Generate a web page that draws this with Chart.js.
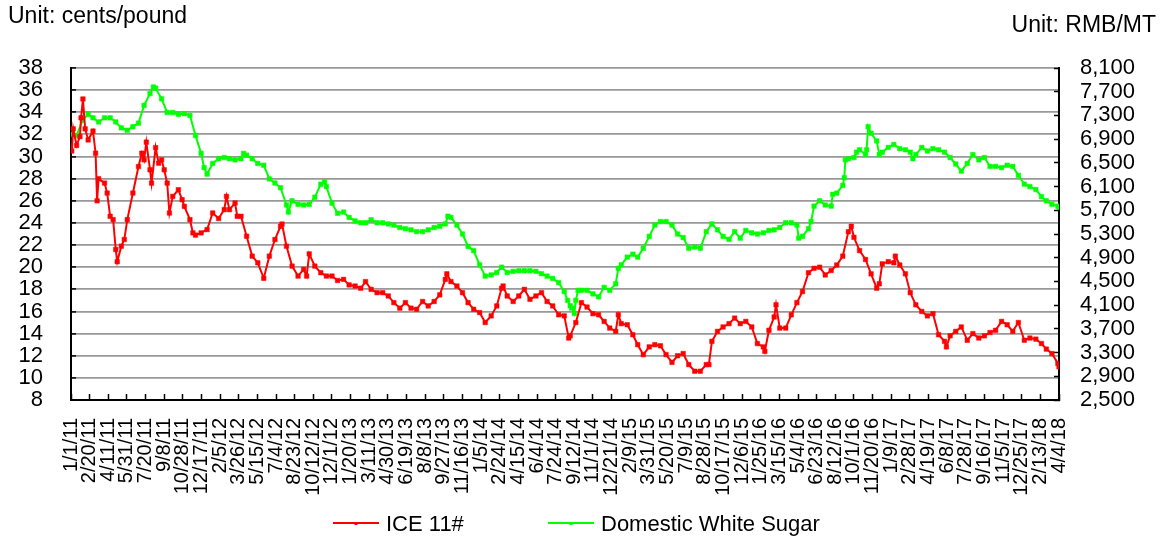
<!DOCTYPE html>
<html><head><meta charset="utf-8">
<script src="https://cdn.jsdelivr.net/npm/chart.js@4.4.0/dist/chart.umd.min.js"></script>
<style>html,body{margin:0;padding:0;background:#fff;}canvas{display:block;}</style>
</head><body>
<canvas id="c" width="1162" height="538"></canvas>
<script>
const iceDates = ["2011-01-03","2011-01-07","2011-01-16","2011-01-25","2011-01-28","2011-02-02","2011-02-08","2011-02-16","2011-03-01","2011-03-08","2011-03-12","2011-03-16","2011-04-01","2011-04-08","2011-04-16","2011-04-24","2011-05-01","2011-05-05","2011-05-16","2011-05-24","2011-06-01","2011-06-16","2011-07-01","2011-07-10","2011-07-16","2011-07-22","2011-08-01","2011-08-05","2011-08-16","2011-08-24","2011-09-01","2011-09-08","2011-09-16","2011-09-22","2011-10-01","2011-10-16","2011-10-26","2011-11-01","2011-11-16","2011-11-24","2011-12-01","2011-12-16",
"2012-01-01","2012-01-16","2012-02-01","2012-02-16","2012-02-22","2012-03-01","2012-03-16","2012-03-22","2012-04-01","2012-04-16","2012-05-01","2012-05-16","2012-06-01","2012-06-16","2012-07-01","2012-07-16","2012-07-20","2012-08-01","2012-08-16","2012-09-01","2012-09-16","2012-09-24","2012-10-01","2012-10-16","2012-11-01","2012-11-16","2012-12-01","2012-12-16",
"2013-01-01","2013-01-16","2013-02-01","2013-02-16","2013-03-01","2013-03-16","2013-04-01","2013-04-16","2013-05-01","2013-05-16","2013-06-01","2013-06-16","2013-07-01","2013-07-16","2013-08-01","2013-08-16","2013-09-01","2013-09-16","2013-10-01","2013-10-05","2013-10-16","2013-11-01","2013-11-16","2013-12-01","2013-12-16",
"2014-01-01","2014-01-16","2014-02-01","2014-02-16","2014-03-01","2014-03-05","2014-03-16","2014-04-01","2014-04-16","2014-05-01","2014-05-16","2014-06-01","2014-06-16","2014-07-01","2014-07-16","2014-08-01","2014-08-16","2014-08-28","2014-09-01","2014-09-16","2014-10-01","2014-10-16","2014-11-01","2014-11-16","2014-12-01","2014-12-16",
"2015-01-01","2015-01-08","2015-01-16","2015-02-01","2015-02-16","2015-03-01","2015-03-16","2015-04-01","2015-04-16","2015-05-01","2015-05-16","2015-06-01","2015-06-16","2015-07-01","2015-07-16","2015-08-01","2015-08-16","2015-09-01","2015-09-08","2015-09-16","2015-10-01","2015-10-16","2015-11-01","2015-11-16","2015-12-01","2015-12-16",
"2016-01-01","2016-01-16","2016-02-01","2016-02-05","2016-02-16","2016-03-01","2016-03-06","2016-03-16","2016-04-01","2016-04-16","2016-05-01","2016-05-16","2016-06-01","2016-06-16","2016-07-01","2016-07-16","2016-08-01","2016-08-16","2016-09-01","2016-09-16","2016-09-24","2016-10-01","2016-10-16","2016-11-01","2016-11-16","2016-12-01","2016-12-08","2016-12-16",
"2017-01-01","2017-01-16","2017-01-20","2017-02-01","2017-02-16","2017-03-01","2017-03-16","2017-04-01","2017-04-16","2017-05-01","2017-05-16","2017-06-01","2017-06-06","2017-06-16","2017-07-01","2017-07-16","2017-08-01","2017-08-16","2017-09-01","2017-09-16","2017-10-01","2017-10-16","2017-11-01","2017-11-16","2017-12-01","2017-12-16",
"2018-01-01","2018-01-16","2018-02-01","2018-02-16","2018-03-01","2018-03-16","2018-04-01","2018-04-04"];
const iceValues = [30.5,32.5,31.0,31.8,33.5,35.2,32.5,31.5,32.3,30.3,26.0,28.0,27.6,26.7,24.6,24.3,21.6,20.5,21.9,22.5,24.3,26.7,29.1,30.3,29.7,31.3,28.8,27.6,30.8,29.4,29.7,28.8,27.6,24.9,26.4,27.0,26.1,25.5,24.3,23.1,22.9,23.1,
23.4,24.9,24.4,25.2,26.4,25.2,25.8,24.6,24.6,22.8,21.0,20.4,19.0,21.0,22.5,23.7,23.9,21.9,20.1,19.2,19.8,19.2,21.2,20.1,19.5,19.2,19.2,18.8,
18.9,18.4,18.3,18.1,18.7,18.0,17.7,17.7,17.4,16.8,16.3,16.8,16.3,16.2,16.9,16.5,16.9,17.5,18.9,19.4,18.7,18.3,17.7,16.8,16.2,
15.9,15.0,15.6,16.5,18.1,18.3,17.4,16.9,17.4,18.0,17.1,17.4,17.7,16.9,16.5,15.7,15.6,13.6,13.8,15.0,16.8,16.4,15.8,15.7,15.1,14.5,
14.2,15.7,14.9,14.8,13.9,13.0,12.1,12.8,13.0,12.9,12.1,11.4,12.0,12.2,11.2,10.6,10.6,11.2,11.2,13.3,14.2,14.6,14.9,15.4,14.9,15.1,
14.6,13.1,12.8,12.4,14.3,15.5,16.6,14.5,14.5,15.7,16.8,17.8,19.5,19.9,20.0,19.3,19.7,20.2,21.0,23.2,23.7,22.7,21.5,20.7,19.4,18.1,18.5,20.3,
20.5,20.4,21.0,20.2,19.4,17.7,16.6,16.0,15.6,15.8,13.9,13.3,12.8,13.8,14.2,14.6,13.4,14.0,13.6,13.8,14.1,14.3,15.1,14.8,14.2,15.0,
13.4,13.6,13.5,13.1,12.6,12.2,11.3,11.0];

const sugarDates = ["2011-01-03","2011-01-16","2011-02-01","2011-02-16","2011-03-01","2011-03-16","2011-04-01","2011-04-16","2011-05-01","2011-05-16","2011-06-01","2011-06-16","2011-07-01","2011-07-16","2011-08-01","2011-08-10","2011-08-16","2011-09-01","2011-09-16","2011-10-01","2011-10-16","2011-11-01","2011-11-16","2011-12-01","2011-12-16","2011-12-24",
"2012-01-01","2012-01-16","2012-02-01","2012-02-16","2012-03-01","2012-03-16","2012-04-01","2012-04-08","2012-04-16","2012-05-01","2012-05-16","2012-06-01","2012-06-16","2012-07-01","2012-07-16","2012-08-01","2012-08-06","2012-08-16","2012-09-01","2012-09-16","2012-10-01","2012-10-16","2012-11-01","2012-11-11","2012-11-16","2012-12-01","2012-12-16",
"2013-01-01","2013-01-16","2013-02-01","2013-02-16","2013-03-01","2013-03-16","2013-04-01","2013-04-16","2013-05-01","2013-05-16","2013-06-01","2013-06-16","2013-07-01","2013-07-16","2013-08-01","2013-08-16","2013-09-01","2013-09-16","2013-10-01","2013-10-08","2013-10-16","2013-11-01","2013-11-16","2013-12-01","2013-12-16",
"2014-01-01","2014-01-16","2014-02-01","2014-02-16","2014-03-01","2014-03-16","2014-04-01","2014-04-16","2014-05-01","2014-05-16","2014-06-01","2014-06-16","2014-07-01","2014-07-16","2014-08-01","2014-08-16","2014-08-25","2014-09-01","2014-09-05","2014-09-12","2014-09-16","2014-09-22","2014-10-01","2014-10-16","2014-11-01","2014-11-16","2014-12-01","2014-12-16",
"2015-01-01","2015-01-08","2015-01-16","2015-02-01","2015-02-16","2015-03-01","2015-03-16","2015-04-01","2015-04-16","2015-05-01","2015-05-16","2015-06-01","2015-06-16","2015-07-01","2015-07-16","2015-08-01","2015-08-16","2015-09-01","2015-09-16","2015-10-01","2015-10-16","2015-11-01","2015-11-16","2015-12-01","2015-12-16",
"2016-01-01","2016-01-16","2016-02-01","2016-02-16","2016-03-01","2016-03-16","2016-04-01","2016-04-16","2016-05-01","2016-05-06","2016-05-16","2016-06-01","2016-06-08","2016-06-16","2016-07-01","2016-07-16","2016-08-01","2016-08-05","2016-08-16","2016-09-01","2016-09-05","2016-09-08","2016-09-16","2016-10-01","2016-10-08","2016-10-16","2016-11-01","2016-11-04","2016-11-08","2016-11-16","2016-12-01","2016-12-08","2016-12-16",
"2017-01-01","2017-01-16","2017-02-01","2017-02-16","2017-03-01","2017-03-08","2017-03-16","2017-04-01","2017-04-16","2017-05-01","2017-05-16","2017-06-01","2017-06-16","2017-07-01","2017-07-16","2017-08-01","2017-08-16","2017-09-01","2017-09-16","2017-10-01","2017-10-16","2017-11-01","2017-11-16","2017-12-01","2017-12-16",
"2018-01-01","2018-01-16","2018-02-01","2018-02-16","2018-03-01","2018-03-16","2018-04-01","2018-04-04"];
const sugarValues = [6980,6960,7220,7320,7260,7190,7260,7260,7190,7090,7050,7110,7170,7470,7670,7780,7760,7580,7350,7350,7320,7330,7300,6960,6660,6420,
6310,6490,6570,6590,6570,6550,6570,6660,6630,6570,6490,6460,6230,6160,6080,5790,5670,5860,5800,5790,5800,5920,6140,6180,6100,5820,5650,
5670,5580,5520,5490,5490,5540,5490,5490,5470,5450,5410,5390,5370,5340,5340,5370,5410,5430,5470,5600,5580,5450,5300,5090,5020,
4780,4590,4610,4650,4740,4650,4670,4680,4680,4680,4670,4630,4590,4550,4480,4330,4180,4090,4050,3960,4180,4350,4350,4350,4290,4240,4400,4350,
4460,4720,4780,4910,4960,4910,5060,5260,5450,5510,5510,5450,5300,5240,5060,5080,5060,5340,5470,5370,5260,5210,5340,5230,5360,
5320,5300,5320,5360,5370,5410,5490,5490,5450,5230,5260,5390,5510,5770,5860,5790,5770,5970,5990,6120,6250,6550,6570,6590,6680,6720,6640,6720,7110,7000,6870,6640,6680,
6760,6810,6740,6720,6680,6570,6640,6760,6700,6740,6720,6680,6590,6480,6360,6490,6640,6550,6590,6440,6440,6420,6460,6440,6290,
6140,6100,6050,5930,5860,5800,5770,5750];

const seriesNames = ["ICE 11#", "Domestic White Sugar"];
const leftAxis = {min: 8, max: 38, step: 2};
const rightAxis = {min: 2500, max: 8100, step: 400};
const xAxis = {start: "2011-01-01", end: "2018-04-04", stepDays: 50};

const DAY = 86400000;
function toUTC(s){ const p = s.split('-').map(Number); return Date.UTC(p[0], p[1]-1, p[2]); }
const origin = toUTC(xAxis.start);
const toDay = s => (toUTC(s) - origin) / DAY;
function fmtDay(v){ const d = new Date(origin + Math.round(v) * DAY); return (d.getUTCMonth()+1) + '/' + d.getUTCDate() + '/' + String(d.getUTCFullYear()).slice(2); }

const FONT = '"Liberation Sans", Arial, sans-serif';

const overlay = {
  id: 'overlay',
  afterDraw(chart){
    const ctx = chart.ctx;
    ctx.save();
    ctx.fillStyle = '#000';
    ctx.font = '23px ' + FONT;
    ctx.textBaseline = 'alphabetic';
    ctx.textAlign = 'left';
    ctx.fillText('Unit: cents/pound', 8, 23);
    ctx.textAlign = 'right';
    ctx.fillText('Unit: RMB/MT', 1156, 32);
    ctx.font = '22px ' + FONT;
    const items = [{x: 333, color: '#ff0000'}, {x: 548, color: '#00ff00'}];
    items.forEach((it, i) => {
      ctx.strokeStyle = it.color; ctx.lineWidth = 2;
      ctx.beginPath(); ctx.moveTo(it.x, 523); ctx.lineTo(it.x + 46, 523); ctx.stroke();
      ctx.fillStyle = it.color; ctx.fillRect(it.x + 21.5, 522, 3, 3);
      ctx.fillStyle = '#000'; ctx.textAlign = 'left';
      ctx.fillText(chart.data.datasets[i].label, it.x + 53, 531);
    });
    ctx.restore();
  }
};

new Chart(document.getElementById('c'), {
  type: 'line',
  data: {
    datasets: [
      {label: seriesNames[0], yAxisID: 'y', data: iceDates.map((d, i) => ({x: toDay(d), y: iceValues[i]})),
       borderColor: '#ff0000', backgroundColor: '#ff0000', pointBorderColor: '#ff0000', borderWidth: 2,
       pointStyle: 'rect', pointRadius: 3.2, pointBorderWidth: 0.5, tension: 0},
      {label: seriesNames[1], yAxisID: 'y1', data: sugarDates.map((d, i) => ({x: toDay(d), y: sugarValues[i]})),
       borderColor: '#00ff00', backgroundColor: '#00ff00', pointBorderColor: '#00ff00', borderWidth: 2,
       pointStyle: 'rect', pointRadius: 3.2, pointBorderWidth: 0.5, tension: 0}
    ]
  },
  options: {
    responsive: false, animation: false, devicePixelRatio: 1,
    layout: {padding: {top: 68, left: 0, right: 0, bottom: 0}},
    plugins: {legend: {display: false}, tooltip: {enabled: false}},
    scales: {
      x: {type: 'linear', min: 0, max: toDay(xAxis.end),
          afterFit: s => { s.height = 138; },
          ticks: {stepSize: xAxis.stepDays, autoSkip: false, maxRotation: 90, minRotation: 90, padding: 24, color: '#000',
                  font: {family: FONT, size: 20}, callback: v => fmtDay(v)},
          grid: {drawOnChartArea: false, drawTicks: true, tickLength: -6, tickColor: '#000', tickWidth: 1.5},
          border: {display: true, color: '#000', width: 2}},
      y: {position: 'left', min: leftAxis.min, max: leftAxis.max,
          afterFit: s => { s.width = 71; },
          ticks: {stepSize: leftAxis.step, autoSkip: false, padding: 33, color: '#000', font: {family: FONT, size: 22}},
          grid: {color: '#999999', lineWidth: 1.8, drawTicks: true, tickLength: -5, tickColor: '#000', tickWidth: 1.5},
          border: {display: true, color: '#000', width: 2}},
      y1: {position: 'right', min: rightAxis.min, max: rightAxis.max,
           afterFit: s => { s.width = 103; },
           ticks: {stepSize: rightAxis.step, autoSkip: false, padding: 26, color: '#000', font: {family: FONT, size: 22},
                   callback: v => v.toLocaleString('en-US')},
           grid: {drawOnChartArea: false, drawTicks: true, tickLength: -5, tickColor: '#000', tickWidth: 1.5},
           border: {display: true, color: '#000', width: 2}}
    }
  },
  plugins: [overlay]
});
</script>
</body></html>
